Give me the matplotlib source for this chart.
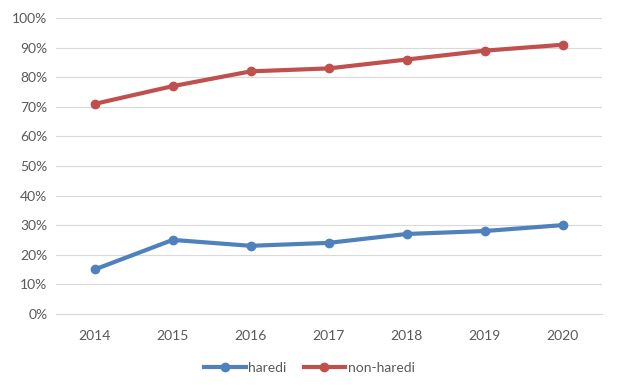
import numpy as np
import matplotlib
matplotlib.use("Agg")
import matplotlib.pyplot as plt
from matplotlib.ticker import PercentFormatter

years = ["2014", "2015", "2016", "2017", "2018", "2019", "2020"]
haredi = [15, 25, 23, 24, 27, 28, 30]
non_haredi = [71, 77, 82, 83, 86, 89, 91]

plt.rcParams['font.family'] = ['Lato', 'DejaVu Sans']

fig = plt.figure(figsize=(6.19, 3.86), dpi=100)
ax = fig.add_axes([0.090, 0.187, 0.882, 0.766])

x = np.arange(len(years))
ax.plot(x, haredi, color='#4F81BD', lw=3, marker='o', ms=6, label='haredi')
ax.plot(x, non_haredi, color='#C0504D', lw=3, marker='o', ms=6, label='non-haredi')

ax.set_xlim(-0.5, len(years) - 0.5)
ax.set_ylim(0, 100)
ax.set_yticks(np.arange(0, 101, 10))
ax.yaxis.set_major_formatter(PercentFormatter(decimals=0))
ax.set_xticks(x)
ax.set_xticklabels(years)
ax.grid(axis='y', color='#D9D9D9', lw=0.8)
ax.set_axisbelow(True)
for s in ['top', 'right', 'left']:
    ax.spines[s].set_visible(False)
ax.spines['bottom'].set_color('#D9D9D9')
ax.tick_params(axis='both', length=0, colors='#595959', labelsize=10)
ax.tick_params(axis='x', pad=12)
ax.tick_params(axis='y', pad=6)

fig.legend(loc='lower center', bbox_to_anchor=(0.5, 0.0), ncol=2, frameon=False,
           fontsize=10, labelcolor='#595959', handlelength=3, columnspacing=1.2,
           handletextpad=0.2)

fig.savefig('out.png', dpi=100)
